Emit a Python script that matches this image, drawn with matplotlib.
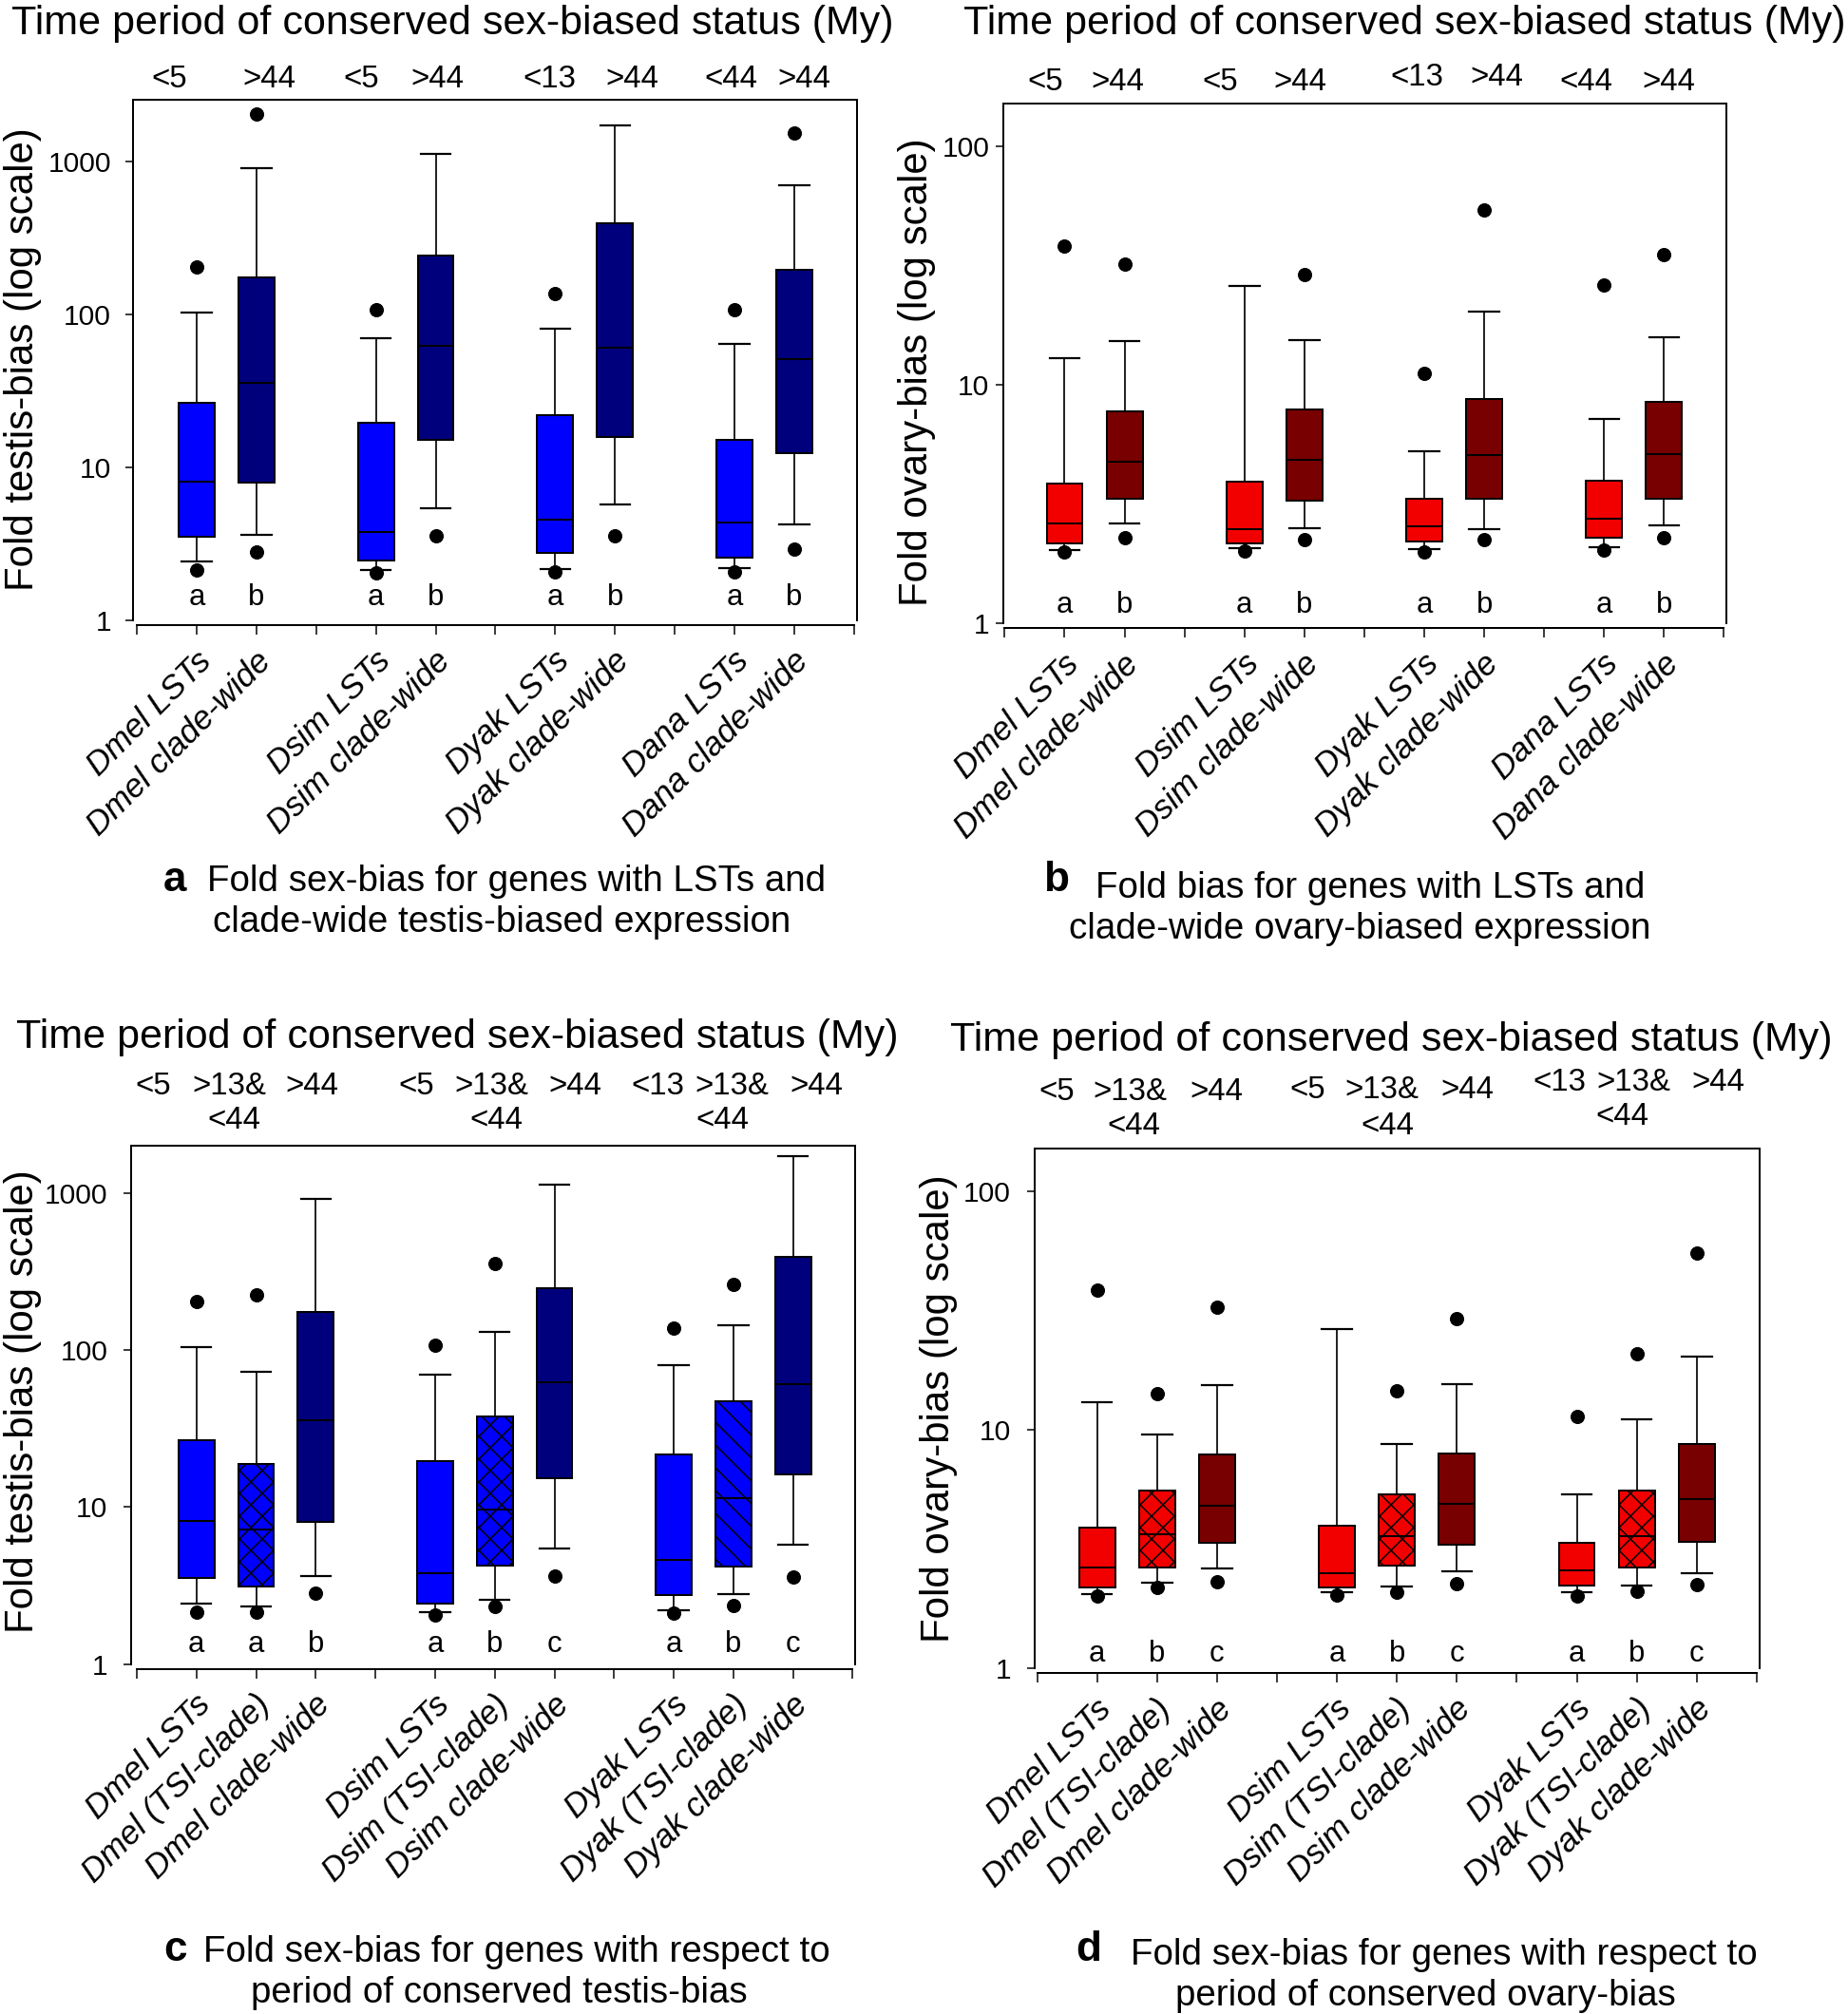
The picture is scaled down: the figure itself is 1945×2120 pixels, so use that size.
import matplotlib
matplotlib.use("Agg")
import matplotlib.pyplot as plt
from matplotlib.ticker import NullLocator
from matplotlib.transforms import ScaledTranslation

W, H = 1945, 2120
DPI = 72
plt.rcParams['font.family'] = ['Liberation Sans', 'DejaVu Sans']
plt.rcParams['hatch.linewidth'] = 1.5

# ------------------------------------------------------------------ data
# Panel a : fold testis-bias
a_names = ["Dmel LSTs", "Dmel clade-wide", "Dsim LSTs", "Dsim clade-wide",
           "Dyak LSTs", "Dyak clade-wide", "Dana LSTs", "Dana clade-wide"]
a_period = ["<5", ">44", "<5", ">44", "<13", ">44", "<44", ">44"]
a_letters = ["a", "b", "a", "b", "a", "b", "a", "b"]
a_whislo = [2.41, 3.63, 2.14, 5.39, 2.17, 5.73, 2.21, 4.24]
a_q1 = [3.50, 7.96, 2.46, 15.2, 2.77, 15.8, 2.55, 12.4]
a_med = [8.04, 35.4, 3.78, 61.7, 4.52, 60.4, 4.38, 50.9]
a_q3 = [26.3, 173, 19.4, 243, 21.8, 392, 15.2, 194]
a_whishi = [103, 897, 69.5, 1121, 80.4, 1710, 64.3, 698]
a_out_lo = [2.14, 2.80, 2.05, 3.56, 2.08, 3.56, 2.06, 2.92]
a_out_hi = [204, 2040, 107, None, 137, None, 107, 1531]

# Panel b : fold ovary-bias
b_names = a_names
b_period = ["<5", ">44", "<5", ">44", "<13", ">44", "<44", ">44"]
b_letters = ["a", "b", "a", "b", "a", "b", "a", "b"]
b_whislo = [2.03, 2.61, 2.07, 2.51, 2.04, 2.47, 2.08, 2.57]
b_q1 = [2.16, 3.33, 2.16, 3.28, 2.20, 3.33, 2.29, 3.33]
b_med = [2.63, 4.76, 2.48, 4.84, 2.54, 5.09, 2.75, 5.14]
b_q3 = [3.87, 7.72, 3.93, 7.85, 3.32, 8.68, 3.96, 8.51]
b_whishi = [12.9, 15.2, 26.1, 15.4, 5.28, 20.2, 7.22, 15.8]
b_out_lo = [1.99, 2.29, 2.01, 2.25, 1.99, 2.25, 2.03, 2.29]
b_out_hi = [38.3, 32.2, None, 29.0, 11.2, 54.3, 26.2, 35.1]

# Panel c : fold testis-bias by period of conserved testis-bias
c_names = ["Dmel LSTs", "Dmel (TSI-clade)", "Dmel clade-wide",
           "Dsim LSTs", "Dsim (TSI-clade)", "Dsim clade-wide",
           "Dyak LSTs", "Dyak (TSI-clade)", "Dyak clade-wide"]
c_period_top = ["<5", ">13&", ">44", "<5", ">13&", ">44", "<13", ">13&", ">44"]
c_period_bot = ["", "<44", "", "", "<44", "", "", "<44", ""]
c_letters = ["a", "a", "b", "a", "b", "c", "a", "b", "c"]
c_whislo = [2.42, 2.34, 3.61, 2.13, 2.56, 5.42, 2.20, 2.79, 5.74]
c_q1 = [3.52, 3.13, 8.02, 2.44, 4.22, 15.2, 2.74, 4.18, 16.2]
c_med = [8.14, 7.23, 35.9, 3.77, 9.6, 62.0, 4.58, 11.4, 60.4]
c_q3 = [26.5, 18.7, 175, 19.6, 37.5, 246, 21.6, 47.2, 392]
c_whishi = [104, 72.3, 912, 69.5, 131, 1132, 80.2, 143, 1706]
c_out_lo = [2.13, 2.13, 2.82, 2.05, 2.34, 3.61, 2.11, 2.36, 3.58]
c_out_hi = [204, 226, None, 107, 356, None, 137, 263, None]

# Panel d : fold ovary-bias by period of conserved ovary-bias
d_names = c_names
d_period_top = ["<5", ">13&", ">44", "<5", ">13&", ">44", "<13", ">13&", ">44"]
d_period_bot = ["", "<44", "", "", "<44", "", "", "<44", ""]
d_letters = ["a", "b", "c", "a", "b", "c", "a", "b", "c"]
d_whislo = [2.05, 2.29, 2.63, 2.09, 2.19, 2.54, 2.08, 2.23, 2.49]
d_q1 = [2.17, 2.65, 3.36, 2.17, 2.69, 3.29, 2.21, 2.65, 3.40]
d_med = [2.65, 3.65, 4.79, 2.51, 3.58, 4.89, 2.56, 3.56, 5.13]
d_q3 = [3.88, 5.57, 7.84, 3.97, 5.37, 7.92, 3.34, 5.57, 8.73]
d_whishi = [13.0, 9.51, 15.3, 26.3, 8.70, 15.5, 5.37, 11.0, 20.3]
d_out_lo = [2.01, 2.17, 2.31, 2.03, 2.08, 2.26, 2.01, 2.10, 2.25]
d_out_hi = [38.5, 14.2, 32.5, None, 14.6, 29.2, 11.3, 20.8, 54.7]

titles = ["Time period of conserved sex-biased status (My)"] * 4
ylabels = ["Fold testis-bias (log scale)", "Fold ovary-bias (log scale)",
           "Fold testis-bias (log scale)", "Fold ovary-bias (log scale)"]
panel_letters = ["a", "b", "c", "d"]
captions = [("Fold sex-bias for genes with LSTs and", "clade-wide testis-biased expression"),
            ("Fold bias for genes with LSTs and", "clade-wide ovary-biased expression"),
            ("Fold sex-bias for genes with respect to", "period of conserved testis-bias"),
            ("Fold sex-bias for genes with respect to", "period of conserved ovary-bias")]

# ------------------------------------------------------------------ style
BLUE, NAVY = "#0000FF", "#00007C"
RED, DKRED = "#F20000", "#780000"

fig = plt.figure(figsize=(W / DPI, H / DPI), dpi=DPI)


def fx(x):
    return x / W


def fy(y):
    return 1 - y / H


def make_axes(l, r, t, b):
    return fig.add_axes([fx(l), fy(b), (r - l) / W, (b - t) / H])


def draw_panel(ax, positions, whislo, q1, med, q3, whishi, out_lo, out_hi,
               colors, hatches, ylim, yticks, ytick_pad, xlim):
    stats = []
    for i in range(len(positions)):
        fl = [out_lo[i]] + ([out_hi[i]] if out_hi[i] is not None else [])
        stats.append(dict(med=med[i], q1=q1[i], q3=q3[i],
                          whislo=whislo[i], whishi=whishi[i], fliers=fl))
    res = ax.bxp(stats, positions=positions, widths=0.6, capwidths=0.5,
                 patch_artist=True, manage_ticks=False,
                 boxprops=dict(edgecolor="black", linewidth=2),
                 medianprops=dict(color="black", linewidth=2),
                 whiskerprops=dict(color="black", linewidth=1.7),
                 capprops=dict(color="black", linewidth=2.2),
                 flierprops=dict(marker="o", markerfacecolor="black",
                                 markeredgecolor="black", markersize=14,
                                 linestyle="none"))
    for box, c, h in zip(res["boxes"], colors, hatches):
        box.set_facecolor(c)
        if h:
            box.set_hatch(h)
    ax.set_yscale("log")
    ax.set_ylim(*ylim)
    ax.set_xlim(*xlim)
    ax.set_yticks(yticks)
    ax.set_yticklabels([str(t) for t in yticks])
    ax.yaxis.set_minor_locator(NullLocator())
    ax.set_xticks(range(13))
    ax.set_xticklabels([])
    ax.tick_params(axis="y", direction="out", length=8, width=1.5,
                   labelsize=30, pad=ytick_pad)
    ax.tick_params(axis="x", direction="out", length=10, width=1.5)
    for s in ax.spines.values():
        s.set_linewidth(2)
    ax.spines["bottom"].set_position(("outward", 5))
    ax.spines["bottom"].set_bounds(0, 12)


def name_labels(ax, positions, names):
    tr = ax.get_xaxis_transform() + ScaledTranslation(10 / DPI, -38 / DPI, fig.dpi_scale_trans)
    for p, n in zip(positions, names):
        ax.text(p, 0, n, transform=tr, rotation=45, rotation_mode="anchor",
                ha="right", va="center", fontsize=35, style="italic")


def letter_labels(ax, positions, letters, y):
    for p, s in zip(positions, letters):
        ax.text(p, y, s, ha="center", va="center", fontsize=31)


def period_labels(ax, positions, labels, dxs, ys, top_px):
    for p, s, dx, y in zip(positions, labels, dxs, ys):
        if not s:
            continue
        tr = ax.get_xaxis_transform() + ScaledTranslation(dx / DPI, (top_px - y) / DPI,
                                                          fig.dpi_scale_trans)
        ax.text(p, 1.0, s, transform=tr, ha="center", va="center", fontsize=33)


pos2 = [1, 2, 4, 5, 7, 8, 10, 11]
pos3 = [1, 2, 3, 5, 6, 7, 9, 10, 11]

# ---------------- panel a
A = (140, 902, 105, 653)
axa = make_axes(*A)
draw_panel(axa, pos2, a_whislo, a_q1, a_med, a_q3, a_whishi, a_out_lo, a_out_hi,
           [BLUE, NAVY] * 4, [None] * 8, (1, 2515), [1, 10, 100, 1000], 15, (-0.064, 12.05))
name_labels(axa, pos2, a_names)
letter_labels(axa, pos2, a_letters, 1.41)
period_labels(axa, pos2, a_period, [-29, 14, -15, 1.5, -5.5, 18, -4, 10], [84] * 8, A[2])

# ---------------- panel b
B = (1055.5, 1817, 108.5, 656)
axb = make_axes(*B)
draw_panel(axb, pos2, b_whislo, b_q1, b_med, b_q3, b_whishi, b_out_lo, b_out_hi,
           [RED, DKRED] * 4, [None] * 8, (1, 152), [1, 10, 100], 6, (-0.03, 12.04))
name_labels(axb, pos2, b_names)
letter_labels(axb, pos2, b_letters, 1.19)
period_labels(axb, pos2, b_period, [-20, -7, -26, -4, -8, 13, -19, 5],
              [86.5, 86.5, 86.5, 86.5, 81, 81, 86.5, 86.5], B[2])

# ---------------- panel c
C = (138.4, 900, 1206, 1751.6)
axc = make_axes(*C)
draw_panel(axc, pos3, c_whislo, c_q1, c_med, c_q3, c_whishi, c_out_lo, c_out_hi,
           [BLUE, BLUE, NAVY] * 3, [None, "x", None, None, "x", None, None, "\\", None],
           (1, 2000), [1, 10, 100, 1000], 17, (-0.088, 12.04))
name_labels(axc, pos3, c_names)
letter_labels(axc, pos3, c_letters, 1.33)
period_labels(axc, pos3, c_period_top, [-46, -28, -4, -20, -3, 22, -17, -2, 25],
              [1143.5] * 9, C[2])
period_labels(axc, pos3, c_period_bot, [0, -23, 0, 0, 2, 0, 0, -12, 0], [1180] * 9, C[2])

# ---------------- panel d
D = (1089, 1852, 1208.7, 1756)
axd = make_axes(*D)
draw_panel(axd, pos3, d_whislo, d_q1, d_med, d_q3, d_whishi, d_out_lo, d_out_hi,
           [RED, RED, DKRED] * 3, [None, "x", None] * 3,
           (1, 151), [1, 10, 100], 17, (-0.04, 12.05))
name_labels(axd, pos3, d_names)
letter_labels(axd, pos3, d_letters, 1.15)
period_labels(axd, pos3, d_period_top, [-42, -28, 0, -31, -16, 11, -18, -3, 23],
              [1150] * 3 + [1148] * 3 + [1139.5] * 3, D[2])
period_labels(axd, pos3, d_period_bot, [0, -24, 0, 0, -10, 0, 0, -15, 0],
              [1185] * 3 + [1185] * 3 + [1176] * 3, D[2])

# ---------------- titles, y labels, captions
title_pos = [(476, 36), (1478, 36), (481, 1103), (1464, 1106)]
for (x, y), t in zip(title_pos, titles):
    fig.text(fx(x), fy(y), t, ha="center", va="baseline", fontsize=43)

ylabel_pos = [(24, 378), (965, 392), (24, 1475), (988, 1483)]
for (x, y), t in zip(ylabel_pos, ylabels):
    fig.text(fx(x), fy(y), t, ha="center", va="center", rotation=90, fontsize=42)

# (letter x-centre, letter baseline, line1 left, line1 baseline, line2 centre, line2 baseline)
cap_pos = [(184, 938, 218, 938, 528, 981),
           (1111, 938, 1153, 945, 1431, 988),
           (185, 2064, 214, 2065, 525, 2108),
           (1146, 2064, 1190, 2068, 1500, 2111)]
for (lx, ly, x1, y1, x2, y2), letter, (l1, l2) in zip(cap_pos, panel_letters, captions):
    fig.text(fx(lx), fy(ly), letter, ha="center", va="baseline", fontsize=44, fontweight="bold")
    fig.text(fx(x1), fy(y1), l1, ha="left", va="baseline", fontsize=38.5)
    fig.text(fx(x2), fy(y2), l2, ha="center", va="baseline", fontsize=38.5)

fig.savefig("out.png", dpi=DPI)
